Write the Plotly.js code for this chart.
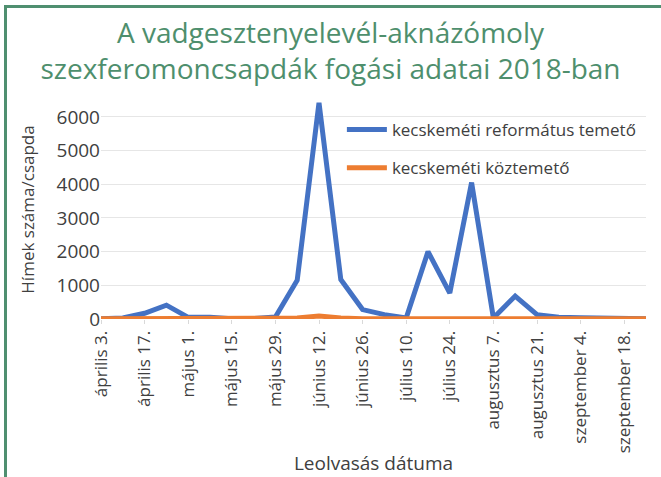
<!DOCTYPE html>
<html>
<head>
<meta charset="utf-8">
<script src="https://cdn.plot.ly/plotly-3.0.1.min.js"></script>
<style>
html,body{margin:0;padding:0;background:#fff;}
#wrap{position:absolute;left:0;top:0;width:661px;height:477px;overflow:hidden;}
#frame{position:absolute;left:4px;top:5px;width:700px;height:470px;border-left:3px solid #4f8f70;border-top:3px solid #4f8f70;border-bottom:1px solid #dde9e3;pointer-events:none;z-index:5;}
#chart{position:absolute;left:0;top:0;width:661px;height:477px;}
</style>
</head>
<body>
<div id="wrap"><div id="chart"></div><div id="frame"></div></div>
<script>
const dates = ["április 3.","április 10.","április 17.","április 24.","május 1.","május 8.","május 15.","május 22.","május 29.","június 5.","június 12.","június 19.","június 26.","július 3.","július 10.","július 17.","július 24.","július 31.","augusztus 7.","augusztus 14.","augusztus 21.","augusztus 28.","szeptember 4.","szeptember 11.","szeptember 18.","szeptember 25."];
const tickLabels = ["április 3.","április 17.","május 1.","május 15.","május 29.","június 12.","június 26.","július 10.","július 24.","augusztus 7.","augusztus 21.","szeptember 4.","szeptember 18."];
const reformatus = [10,30,170,410,50,50,10,10,60,1150,6420,1170,280,130,30,2000,770,4050,30,680,130,50,40,20,10,10];
const kozteto = [5,5,10,20,10,10,5,5,10,30,90,30,10,10,5,10,10,20,5,40,20,10,5,5,5,5];
const seriesNames = ["kecskeméti református temető","kecskeméti köztemető"];

const font = "'Open Sans', 'Noto Sans', sans-serif";
const traces = [
  {x: dates, y: reformatus, name: seriesNames[0], type: 'scatter', mode: 'lines', legendgroup: 'a',
   line: {color: '#4472C4', width: 5}},
  {x: dates, y: kozteto, name: seriesNames[1], type: 'scatter', mode: 'lines', legendgroup: 'b',
   line: {color: '#ED7D31', width: 5}}
];
const layout = {
  width: 661, height: 477,
  margin: {l: 101, r: 15, t: 100, b: 158},
  paper_bgcolor: '#fff', plot_bgcolor: '#fff',
  font: {family: font, color: '#404040'},
  title: {text: 'A vadgesztenyelevél-aknázómoly<br>szexferomoncsapdák fogási adatai 2018-ban',
          font: {family: font, size: 28, color: '#4e8f6d'}, x: 0.5, xanchor: 'center',
          yref: 'container', y: 0.91, yanchor: 'middle'},
  showlegend: true,
  legend: {x: 0.442, y: 0.945, xanchor: 'left', yanchor: 'top', bgcolor: 'rgba(0,0,0,0)',
           font: {family: font, size: 17, color: '#404040'}, tracegroupgap: 13, itemwidth: 40},
  xaxis: {type: 'category', categoryorder: 'array', categoryarray: dates,
          range: [0, 25], tickmode: 'array', tickvals: tickLabels, ticktext: tickLabels,
          tickangle: -90, tickfont: {size: 17, color: '#404040'},
          ticks: 'outside', ticklen: 4, tickcolor: '#d9d9d9', showgrid: false, zeroline: false,
          showline: false,
          title: {text: 'Leolvasás dátuma', font: {size: 19, color: '#404040'}, standoff: 4}},
  yaxis: {range: [0, 6500], tickvals: [0,1000,2000,3000,4000,5000,6000],
          tickfont: {size: 19, color: '#404040'}, gridcolor: '#e6e6e6', gridwidth: 1,
          zeroline: false, showline: false, ticks: '',
          title: {text: 'Hímek száma/csapda', font: {size: 17, color: '#404040'}, standoff: 17}}
};
Plotly.newPlot('chart', traces, layout, {displayModeBar: false, staticPlot: true});
</script>
</body>
</html>
